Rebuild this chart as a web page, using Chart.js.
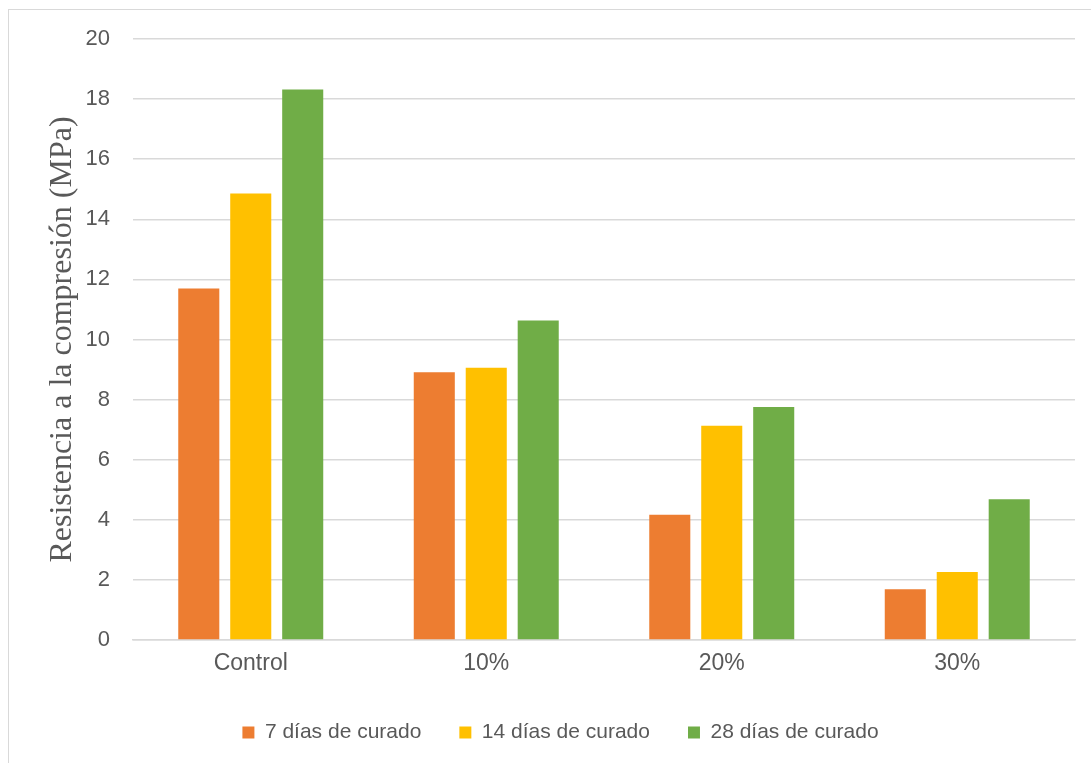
<!DOCTYPE html>
<html>
<head>
<meta charset="utf-8">
<script src="https://cdn.jsdelivr.net/npm/chart.js@4.4.0/dist/chart.umd.min.js"></script>
<style>
  html, body { margin: 0; padding: 0; background: #ffffff; overflow: hidden; }
  #frame { position: absolute; left: 8px; top: 9px; width: 1200px; height: 900px; border: 1px solid #d9d9d9; box-sizing: border-box; }
  #c { position: absolute; left: 0; top: 0; }
</style>
</head>
<body>
<div id="frame"></div>
<canvas id="c" width="1091" height="763"></canvas>
<script>
const categories = ["Control", "10%", "20%", "30%"];
const seriesNames = ["7 días de curado", "14 días de curado", "28 días de curado"];
const dias7 = [11.70, 8.91, 4.17, 1.69];
const dias14 = [14.86, 9.06, 7.13, 2.26];
const dias28 = [18.32, 10.63, 7.75, 4.68];
const yTicks = [0, 2, 4, 6, 8, 10, 12, 14, 16, 18, 20];
const yTitle = "Resistencia a la compresión (MPa)";

const colors = ["#ED7D31", "#FFC000", "#70AD47"];
const textColor = "#595959";
const gridColor = "#d9d9d9";

const seriesValues = [dias7, dias14, dias28];
const datasets = seriesValues.map((vals, i) => ({
  label: seriesNames[i],
  data: vals,
  backgroundColor: colors[i],
  borderWidth: 0,
  categoryPercentage: 0.662,
  barPercentage: 0.79
}));

new Chart(document.getElementById("c"), {
  type: "bar",
  data: { labels: categories, datasets: datasets },
  options: {
    responsive: false,
    animation: false,
    devicePixelRatio: 1,
    layout: { padding: { top: 39, right: 16, left: 46, bottom: 10 } },
    plugins: {
      tooltip: { enabled: false },
      legend: {
        position: "bottom",
        labels: {
          color: textColor,
          font: { family: "'Liberation Sans', Arial, sans-serif", size: 21 },
          boxWidth: 12,
          boxHeight: 12,
          padding: 38
        }
      }
    },
    scales: {
      x: {
        afterFit: (s) => { s.height = 44; },
        grid: { display: false, drawTicks: false },
        border: { display: true, color: gridColor, width: 1.5 },
        ticks: {
          color: textColor,
          padding: 10,
          font: { family: "'Liberation Sans', Arial, sans-serif", size: 23 }
        }
      },
      y: {
        min: 0,
        max: 20,
        afterFit: (s) => { s.width = 87; },
        afterBuildTicks: (s) => { s.ticks = yTicks.map(v => ({ value: v })); },
        grid: { color: gridColor, lineWidth: 1.5, drawTicks: false },
        border: { display: false },
        ticks: {
          color: textColor,
          padding: 23,
          font: { family: "'Liberation Sans', Arial, sans-serif", size: 22 }
        },
        title: {
          display: true,
          text: yTitle,
          color: textColor,
          padding: { top: -3, bottom: 0 },
          font: { family: "'Liberation Serif', 'Times New Roman', serif", size: 32, lineHeight: 1.2 }
        }
      }
    }
  }
});
</script>
</body>
</html>
